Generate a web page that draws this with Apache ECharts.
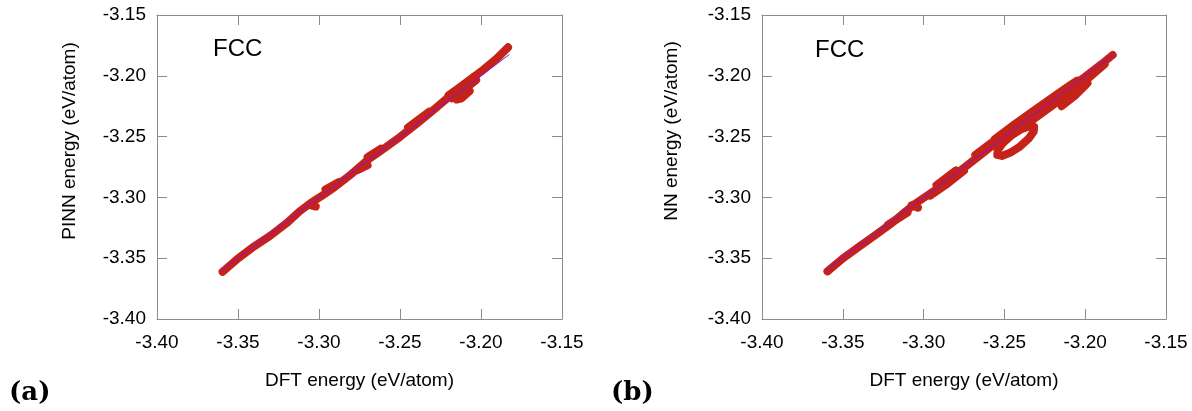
<!DOCTYPE html>
<html>
<head>
<meta charset="utf-8">
<script src="https://cdn.jsdelivr.net/npm/echarts@6/dist/echarts.min.js"></script>
<style>
  html, body { margin: 0; padding: 0; background: #fff; }
  #chart { width: 1192px; height: 411px; }
</style>
</head>
<body>
<div id="chart"></div>
<script>
// ---- Data (DFT energy, predicted energy) in eV/atom ----
const axisMin = -3.40;
const axisMax = -3.15;
const axisStep = 0.05;

// Panel (a): PINN vs DFT
const aMain = [[-3.3595,-3.3612],[-3.350,-3.3502],[-3.340,-3.3402],[-3.330,-3.3315],[-3.320,-3.3212],[-3.312,-3.3115],[-3.305,-3.3045],[-3.298,-3.2985],[-3.290,-3.2912],[-3.280,-3.2808],[-3.270,-3.2692],[-3.262,-3.2618],[-3.250,-3.2503],[-3.240,-3.2398],[-3.230,-3.2288],[-3.220,-3.2175],[-3.210,-3.2065],[-3.200,-3.1965],[-3.190,-3.1855],[-3.1833,-3.1766]];
const aBlobUpper = [[-3.220,-3.2160],[-3.212,-3.2085],[-3.204,-3.2005]];
const aBlobMid = [[-3.218,-3.2185],[-3.210,-3.2110],[-3.203,-3.2035]];
const aBlobLower = [[-3.215,-3.2195],[-3.212,-3.2185],[-3.207,-3.2125]];
const aBump1 = [[-3.245,-3.2425],[-3.232,-3.2295]];
const aBump2 = [[-3.270,-3.2668],[-3.262,-3.2600]];
const aBump3 = [[-3.296,-3.2935],[-3.288,-3.2875]];
const aDrip1 = [[-3.306,-3.3062],[-3.302,-3.3075]];
const aDrip2 = [[-3.276,-3.2775],[-3.270,-3.2735]];
const aDiag = [[-3.360,-3.360],[-3.1825,-3.1825]];

// Panel (b): NN vs DFT
const bMain = [[-3.3595,-3.3608],[-3.350,-3.3502],[-3.340,-3.3405],[-3.330,-3.3312],[-3.320,-3.3215],[-3.312,-3.3125],[-3.305,-3.3050],[-3.300,-3.3005],[-3.290,-3.2915],[-3.280,-3.2808],[-3.270,-3.2705],[-3.260,-3.2600],[-3.250,-3.2500],[-3.240,-3.2405],[-3.230,-3.2305],[-3.220,-3.2205],[-3.210,-3.2105],[-3.200,-3.2008],[-3.190,-3.1905],[-3.1830,-3.1829]];
const bUpper = [[-3.256,-3.2522],[-3.243,-3.2392],[-3.230,-3.2270],[-3.215,-3.2130],[-3.205,-3.2040]];
const bUpperFill = [[-3.252,-3.2500],[-3.238,-3.2362],[-3.222,-3.2205],[-3.208,-3.2068]];
const bLower = [[-3.240,-3.2435],[-3.225,-3.2290],[-3.210,-3.2145],[-3.198,-3.2020],[-3.188,-3.1905]];
const bLowerFill = [[-3.236,-3.2380],[-3.222,-3.2242],[-3.206,-3.2082],[-3.192,-3.1940]];
const bHook = [[-3.1986,-3.2060],[-3.2065,-3.2165],[-3.2146,-3.2250]];
const bLoop = [[-3.2316,-3.2421],[-3.2319,-3.2460],[-3.2351,-3.2518],[-3.2404,-3.2582],[-3.2465,-3.2633],[-3.2516,-3.2659],[-3.2544,-3.2651],[-3.2542,-3.2613],[-3.2510,-3.2554],[-3.2456,-3.2490],[-3.2396,-3.2439],[-3.2344,-3.2414],[-3.2316,-3.2421]];
const bLow1 = [[-3.296,-3.2985],[-3.285,-3.2885],[-3.275,-3.2780]];
const bLow2 = [[-3.292,-3.2900],[-3.280,-3.2778]];
const bLow3 = [[-3.322,-3.3225],[-3.310,-3.3125]];
const bLow4 = [[-3.268,-3.2650],[-3.258,-3.2550]];
const bDrip = [[-3.3075,-3.3065],[-3.3035,-3.3085]];
const bDiag = [[-3.360,-3.360],[-3.183,-3.183]];

const panelA = [aMain, aBlobUpper, aBlobMid, aBlobLower, aBump1, aBump2, aBump3, aDrip1, aDrip2];
const panelB = [bMain, bUpper, bUpperFill, bLower, bLowerFill, bHook, bLoop, bLow1, bLow2, bLow3, bLow4, bDrip];

// ---- Styles ----
const RED = '#c5221a';
const PURPLE = '#8a12dc';
const GRAY = '#8c8c8c';
const FONT = 'Liberation Sans';
const LABEL_SIZE = 19;

function fmt(v) { return v.toFixed(2); }

function xAxes(gi) {
  const base = {
    type: 'value', gridIndex: gi, min: axisMin, max: axisMax, interval: axisStep,
    axisLine: { show: true, lineStyle: { color: GRAY, width: 1 } },
    axisTick: { show: true, inside: true, length: 10, lineStyle: { color: GRAY } },
    splitLine: { show: false }
  };
  return [
    Object.assign({}, base, {
      position: 'bottom',
      axisLabel: { show: true, margin: 14, fontSize: LABEL_SIZE, fontFamily: FONT, color: '#000', formatter: fmt },
      name: 'DFT energy (eV/atom)', nameLocation: 'middle', nameGap: 52,
      nameTextStyle: { fontSize: LABEL_SIZE, fontFamily: FONT, color: '#000' }
    }),
    Object.assign({}, base, { position: 'top', axisLabel: { show: false } })
  ];
}
function yAxes(gi) {
  const base = {
    type: 'value', gridIndex: gi, min: axisMin, max: axisMax, interval: axisStep,
    axisLine: { show: true, lineStyle: { color: GRAY, width: 1 } },
    axisTick: { show: true, inside: true, length: 10, lineStyle: { color: GRAY } },
    splitLine: { show: false }
  };
  return [
    Object.assign({}, base, {
      position: 'left',
      axisLabel: { show: true, margin: 11, fontSize: LABEL_SIZE, fontFamily: FONT, color: '#000', formatter: fmt }
    }),
    Object.assign({}, base, { position: 'right', axisLabel: { show: false } })
  ];
}

const series = [];
function addPanel(segs, diag, gi) {
  segs.forEach(function (seg) {
    series.push({
      type: 'line', xAxisIndex: gi * 2, yAxisIndex: gi * 2, data: seg,
      symbol: 'none', smooth: false, z: 2,
      lineStyle: { color: RED, width: 8, cap: 'round', join: 'round' }
    });
  });
  series.push({
    type: 'line', xAxisIndex: gi * 2, yAxisIndex: gi * 2, data: diag,
    symbol: 'none', z: 3,
    lineStyle: { color: PURPLE, width: 1 }
  });
}
addPanel(panelA, aDiag, 0);
addPanel(panelB, bDiag, 1);

const option = {
  animation: false,
  backgroundColor: '#fff',
  grid: [
    { left: 157, top: 15, width: 405, height: 304 },
    { left: 762, top: 15, width: 404, height: 304 }
  ],
  xAxis: xAxes(0).concat(xAxes(1)),
  yAxis: yAxes(0).concat(yAxes(1)),
  series: series,
  graphic: [
    { type: 'text', left: 213, top: 37, style: { text: 'FCC', fontSize: 24, fontFamily: FONT, fill: '#000' } },
    { type: 'text', left: 815, top: 38, style: { text: 'FCC', fontSize: 24, fontFamily: FONT, fill: '#000' } },
    { type: 'text', x: 70, y: 141, rotation: Math.PI / 2,
      style: { text: 'PINN energy (eV/atom)', fontSize: LABEL_SIZE, fontFamily: FONT, fill: '#000', textAlign: 'center', textVerticalAlign: 'middle' } },
    { type: 'text', x: 672, y: 131, rotation: Math.PI / 2,
      style: { text: 'NN energy (eV/atom)', fontSize: LABEL_SIZE, fontFamily: FONT, fill: '#000', textAlign: 'center', textVerticalAlign: 'middle' } },
    { type: 'text', left: 9, top: 380, style: { text: '(a)', fontSize: 26, fontWeight: 'bold', fontFamily: 'DejaVu Serif', fill: '#000' } },
    { type: 'text', left: 611, top: 380, style: { text: '(b)', fontSize: 26, fontWeight: 'bold', fontFamily: 'DejaVu Serif', fill: '#000' } }
  ]
};

const chart = echarts.init(document.getElementById('chart'), null, { renderer: 'canvas' });
chart.setOption(option);
</script>
</body>
</html>
